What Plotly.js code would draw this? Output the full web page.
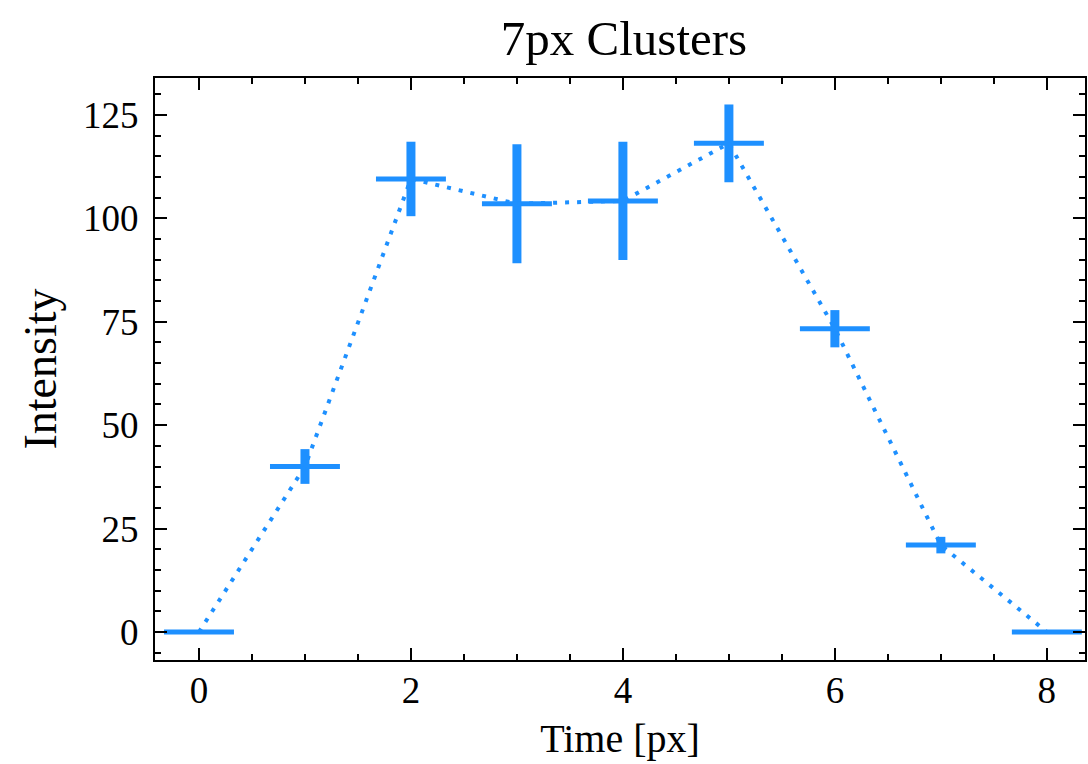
<!DOCTYPE html>
<html>
<head>
<meta charset="utf-8">
<script src="https://cdn.plot.ly/plotly-3.0.1.min.js"></script>
<style>
  html, body { margin: 0; padding: 0; background: #fff; }
  #chart { width: 1088px; height: 764px; }
</style>
</head>
<body>
<div id="chart"></div>
<script>
// Cluster intensity profile over time (7px clusters)
const timePx = [0, 1, 2, 3, 4, 5, 6, 7, 8];
const intensity = [0, 40, 109.5, 103.5, 104.2, 118.1, 73.3, 21.0, 0];
const intensityErr = [0, 4.2, 9.0, 14.4, 14.3, 9.4, 4.5, 2.0, 0];
const timeErr = [0.33, 0.33, 0.33, 0.33, 0.33, 0.33, 0.33, 0.33, 0.33];
const xTicks = [0, 2, 4, 6, 8];
const yTicks = [0, 25, 50, 75, 100, 125];

const blue = '#1E90FF';
const serif = '"Liberation Serif", "DejaVu Serif", serif';

const traces = [
  {
    x: timePx,
    y: intensity,
    type: 'scatter',
    mode: 'lines',
    line: { color: blue, width: 4, dash: '4px,8px' },
    error_y: { type: 'data', array: intensityErr, visible: true, color: blue, thickness: 9, width: 0 },
    error_x: { type: 'data', array: timeErr, visible: true, color: blue, thickness: 5, width: 0 },
    hoverinfo: 'x+y'
  }
];

const axisCommon = {
  showgrid: false,
  zeroline: false,
  showline: true,
  linecolor: '#000',
  linewidth: 2,
  mirror: 'ticks',
  ticks: 'inside',
  ticklen: 12,
  tickwidth: 2,
  tickcolor: '#000',
  tickfont: { family: serif, size: 37, color: '#000' }
};

const layout = {
  width: 1088,
  height: 764,
  paper_bgcolor: '#fff',
  plot_bgcolor: '#fff',
  margin: { l: 155, r: 3, t: 78, b: 104 },
  showlegend: false,
  title: {
    text: '7px Clusters',
    font: { family: serif, size: 49, color: '#000' },
    x: 0.5735, xanchor: 'center',
    y: 0.95, yanchor: 'middle'
  },
  xaxis: Object.assign({}, axisCommon, {
    range: [-0.415, 8.36],
    tickvals: xTicks,
    ticktext: xTicks.map(String),
    ticklabelstandoff: -3,
    minor: { dtick: 0.5, ticks: 'inside', ticklen: 6, tickwidth: 2, tickcolor: '#000' },
    title: { text: 'Time [px]', font: { family: serif, size: 40, color: '#000' }, standoff: 14 }
  }),
  yaxis: Object.assign({}, axisCommon, {
    range: [-6.77, 133.9],
    tickvals: yTicks,
    ticktext: yTicks.map(String),
    ticklabelstandoff: 7,
    minor: { dtick: 5, ticks: 'inside', ticklen: 6, tickwidth: 2, tickcolor: '#000' },
    title: { text: 'Intensity', font: { family: serif, size: 46, color: '#000' }, standoff: 12 }
  })
};

Plotly.newPlot('chart', traces, layout, { displayModeBar: false, staticPlot: true });
</script>
</body>
</html>
